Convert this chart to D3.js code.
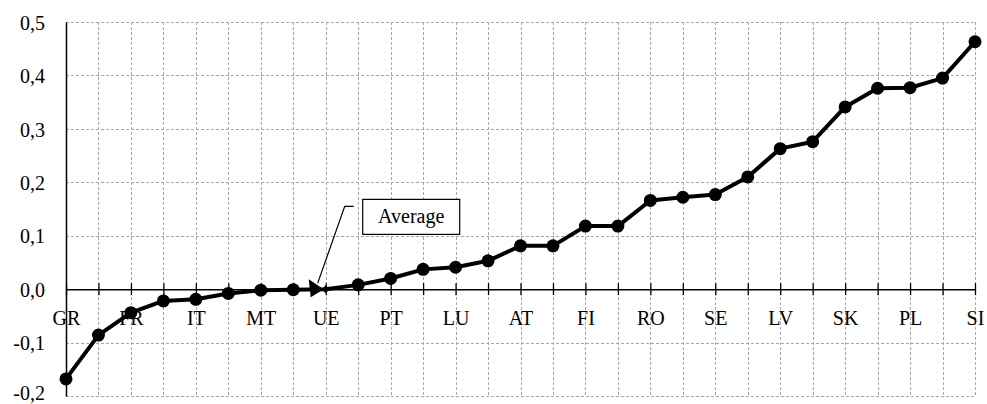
<!DOCTYPE html>
<html>
<head>
<meta charset="utf-8">
<script src="https://cdn.jsdelivr.net/npm/d3@7"></script>
<style>
  html, body { margin: 0; padding: 0; background: #fff; }
  svg { display: block; }
  text { font-family: "Liberation Serif", "Times New Roman", serif; fill: #000; }
</style>
</head>
<body>
<svg id="chart" width="987" height="404"></svg>
<script>
// ---- data ----
const categories = ["GR","CY","FR","ES","IT","HR","MT","BE","UE","DE","PT","NL","LU","UK","AT","IE","FI","DK","RO","HU","SE","EE","LV","LT","SK","CZ","PL","BG","SI"];
const labelledCategories = ["GR","FR","IT","MT","UE","PT","LU","AT","FI","RO","SE","LV","SK","PL","SI"];
const values = [-0.168,-0.086,-0.044,-0.022,-0.019,-0.008,-0.002,-0.001,0.0,0.008,0.020,0.037,0.041,0.053,0.081,0.081,0.118,0.118,0.166,0.172,0.177,0.210,0.263,0.276,0.341,0.376,0.377,0.395,0.463];
const yTickValues = [-0.2,-0.1,0.0,0.1,0.2,0.3,0.4,0.5];
const yTickLabels = ["-0,2","-0,1","0,0","0,1","0,2","0,3","0,4","0,5"];
const annotationText = "Average";
const annotationCategory = "UE";

// ---- layout ----
const svg = d3.select("#chart");
const mLeft = 66, mRight = 975, mTop = 22, mBottom = 396;

const x = d3.scalePoint().domain(categories).range([mLeft, mRight]);
const y = d3.scaleLinear().domain([-0.2, 0.5]).range([mBottom, mTop]);

// gridlines
const grid = svg.append("g").attr("stroke", "#a6a6a6").attr("stroke-width", 1).attr("stroke-dasharray", "3,2");
grid.selectAll("line.h").data(yTickValues.filter(v => v !== 0)).join("line")
  .attr("x1", mLeft).attr("x2", mRight)
  .attr("y1", d => Math.round(y(d)) + 0.5).attr("y2", d => Math.round(y(d)) + 0.5);
grid.selectAll("line.v").data(categories.slice(1)).join("line")
  .attr("x1", d => Math.round(x(d)) + 0.5).attr("x2", d => Math.round(x(d)) + 0.5)
  .attr("y1", mTop).attr("y2", mBottom);

// y axis
const yAxis = d3.axisLeft(y).tickValues(yTickValues)
  .tickFormat((d, i) => yTickLabels[i]).tickSize(0).tickPadding(21);
const yg = svg.append("g").attr("transform", `translate(${mLeft},0)`).call(yAxis);
yg.select(".domain").attr("stroke", "#000").attr("stroke-width", 1.5);
yg.selectAll("text").attr("font-size", 20).attr("font-family", "Liberation Serif")
  .attr("dy", (d, i) => i === 0 ? "0.18em" : "0.36em");

// x axis at zero
const xAxis = d3.axisBottom(x).tickSizeInner(6).tickSizeOuter(0)
  .tickFormat(d => labelledCategories.includes(d) ? d : "").tickPadding(16);
const xg = svg.append("g").attr("transform", `translate(0,${y(0)})`).call(xAxis);
xg.select(".domain").attr("stroke", "#000").attr("stroke-width", 1.5);
xg.selectAll(".tick line").attr("stroke", "#000").attr("stroke-width", 1.3).attr("y1", -6).attr("y2", 6);
xg.selectAll("text").attr("font-size", 20).attr("font-family", "Liberation Serif");

// data line
const pts = categories.map((c, i) => ({ c, v: values[i] }));
svg.append("path").datum(pts)
  .attr("fill", "none").attr("stroke", "#000").attr("stroke-width", 4).attr("stroke-linejoin", "round")
  .attr("d", d3.line().x(d => x(d.c)).y(d => y(d.v)));

svg.append("g").selectAll("circle").data(pts.filter(d => d.c !== annotationCategory)).join("circle")
  .attr("cx", d => x(d.c)).attr("cy", d => y(d.v)).attr("r", 6.5).attr("fill", "#000");

// UE small diamond marker
const ue = pts.find(d => d.c === annotationCategory);
const ux = x(ue.c), uy = y(ue.v);
svg.append("path").attr("fill", "#000")
  .attr("d", `M${ux - 4},${uy} L${ux},${uy - 4} L${ux + 4},${uy} L${ux},${uy + 4} Z`);

// annotation: box + leader with arrowhead
const bx = ux + 37, by = y(0.168);
svg.append("rect").attr("x", bx).attr("y", by).attr("width", 97).attr("height", 35)
  .attr("fill", "#fff").attr("stroke", "#000").attr("stroke-width", 1.2);
svg.append("text").attr("x", bx + 48.5).attr("y", by + 24).attr("text-anchor", "middle")
  .attr("font-size", 20).text(annotationText);
svg.append("path").attr("fill", "none").attr("stroke", "#000").attr("stroke-width", 1.2)
  .attr("d", `M${ux + 28},${by + 7} L${ux + 19},${by + 7} L${ux - 8},${uy - 6}`);
svg.append("path").attr("fill", "#000")
  .attr("d", `M${ux - 17},${uy - 10} L${ux - 2},${uy} L${ux - 15},${uy + 8} Z`);
</script>
</body>
</html>
